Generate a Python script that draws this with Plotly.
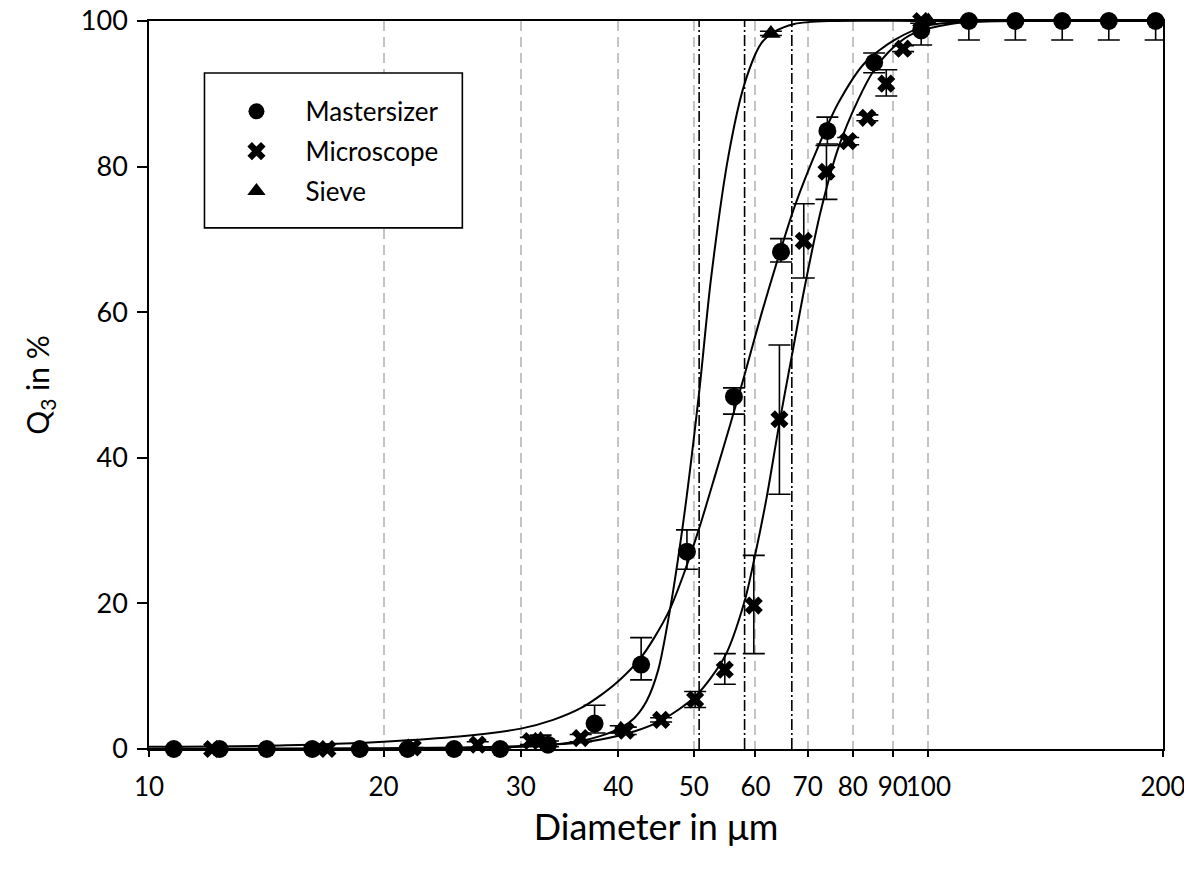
import math
import plotly.graph_objects as go

# ---------------- data ----------------
# Mastersizer measurements
ms_d = [10.76, 12.32, 14.16, 16.20, 18.64, 21.47, 24.63, 28.22, 32.5, 37.3, 42.8, 49.0,
        56.3, 64.7, 74.2, 85.2, 97.9, 112.7, 129.3, 148.5, 170.4, 195.7]
ms_q = [0, 0, 0, 0, 0, 0, 0, 0, 0.6, 3.5, 11.6, 27.1,
        48.4, 68.3, 84.9, 94.3, 98.7, 100, 100, 100, 100, 100]
ms_err_plus = [0, 0, 0, 0, 0, 0, 0, 0, 0.5, 2.5, 3.7, 3.0,
               1.2, 1.8, 1.9, 1.3, 1.3, 0, 0, 0, 0, 0]
ms_err_minus = [0, 0, 0, 0, 0, 0, 0, 0, 0.3, 1.3, 2.1, 2.4,
                2.4, 1.4, 1.8, 1.4, 2.0, 2.6, 2.6, 2.6, 2.6, 2.6]

# Microscope measurements
mi_d = [12.05, 16.94, 21.8, 26.41, 30.9, 35.8, 40.9, 45.4, 50.2, 54.8, 59.7,
        64.4, 69.2, 74.0, 78.9, 83.5, 88.3, 92.8, 97.9]
mi_q = [0, 0, 0.2, 0.6, 1.1, 1.5, 2.5, 4.0, 6.8, 10.9, 19.7,
        45.3, 69.8, 79.3, 83.5, 86.7, 91.4, 96.2, 100]
mi_err_plus = [0, 0, 0, 0.4, 0.5, 0.5, 0.5, 0.3, 1.1, 2.2, 6.9,
               10.2, 5.1, 3.6, 0.5, 0.4, 1.9, 0.4, 0.3]
mi_err_minus = [0, 0, 0, 0.4, 0.5, 0.5, 0.5, 0.3, 1.1, 2.0, 6.6,
                10.3, 5.1, 3.8, 0.5, 0.4, 1.7, 0.4, 0.3]

# Sieve measurements
sv_d = [31.8, 40.3, 62.8, 100]
sv_q = [1.3, 2.7, 98.3, 100]
sv_err = [0.6, 0.5, 0.3, 0]

# Fitted curves
ms_fit_d = [10, 15, 20, 25, 30, 33, 35.8, 38, 40, 42.8, 44.5, 46.5, 48.45, 50.8, 53.4,
            55.7, 58.1, 61.0, 63.8, 67.35, 72.2, 76.6, 82.8, 90.5, 100, 115, 140, 200]
ms_fit_q = [0.3, 0.5, 1.0, 1.7, 2.8, 4.0, 5.6, 7.4, 9.3, 12.6, 15.3, 19.0, 23.8, 30.3, 38.0,
            44.6, 51.4, 59.6, 66.6, 74.5, 82.7, 88.7, 94.2, 97.4, 99.4, 99.9, 100, 100]

sv_fit_d = [10, 20, 25, 30, 33, 35.8, 38, 40.3, 41.9, 43.5, 45, 46.5, 48.45, 50.8, 52.6,
            55.4, 58.1, 61.0, 63.4, 67.3, 75, 100, 200]
sv_fit_q = [0, 0.05, 0.1, 0.3, 0.6, 1.1, 1.8, 2.9, 4.2, 6.6, 10.8, 18.5, 31, 49, 64.5,
            81.5, 91.4, 96.9, 98.5, 99.6, 100, 100, 100]

mi_fit_d = [10, 20, 25, 30, 35.8, 38, 41.9, 45.4, 50.2, 54.8, 58.1, 59.9, 62.0, 64.4, 66.8,
            69.4, 72.8, 76.6, 81.2, 85.1, 90, 95.7, 106.8, 120, 200]
mi_fit_q = [0, 0.1, 0.2, 0.4, 0.9, 1.3, 2.4, 3.9, 7.2, 12.7, 20.3, 26.5, 34.5, 44.8, 54,
            63.5, 74.0, 82.5, 89.1, 93.2, 96.3, 98.3, 99.6, 100, 100]

# Median diameters (dash-dot markers)
x50_values = [50.8, 58.1, 66.8]

x_tickvals = [10, 20, 30, 40, 50, 60, 70, 80, 90, 100, 200]
x_ticktext = ["10", "20", "30", "40", "50", "60", "70", "80", "90", "100", "200"]
y_tickvals = [0, 20, 40, 60, 80, 100]

FONT = "Lato"

fig = go.Figure()

# x50 dash-dot verticals
for v in x50_values:
    fig.add_trace(go.Scatter(x=[v, v], y=[0, 100], mode="lines",
                             line=dict(color="black", width=1.6, dash="11px,3px,2px,3px"),
                             showlegend=False, hoverinfo="skip"))

# fitted curves
for fd, fq in [(ms_fit_d, ms_fit_q), (sv_fit_d, sv_fit_q), (mi_fit_d, mi_fit_q)]:
    fig.add_trace(go.Scatter(x=fd, y=fq, mode="lines",
                             line=dict(color="black", width=2, shape="spline", smoothing=0.8),
                             showlegend=False, hoverinfo="skip"))

err_style = dict(color="black", thickness=1.6, width=11)

fig.add_trace(go.Scatter(
    x=ms_d, y=ms_q, mode="markers", name="Mastersizer", legendgroup="a",
    marker=dict(symbol="circle", size=18, color="black"),
    error_y=dict(type="data", array=ms_err_plus, arrayminus=ms_err_minus, symmetric=False, **err_style),
    cliponaxis=False))
fig.add_trace(go.Scatter(
    x=mi_d, y=mi_q, mode="markers", name="Microscope", legendgroup="b",
    marker=dict(symbol="x", size=16, color="black"),
    error_y=dict(type="data", array=mi_err_plus, arrayminus=mi_err_minus, symmetric=False, **err_style),
    cliponaxis=False))
fig.add_trace(go.Scatter(
    x=sv_d, y=sv_q, mode="markers", name="Sieve", legendgroup="c",
    marker=dict(symbol="triangle-up", size=17, color="black"),
    error_y=dict(type="data", array=sv_err, **err_style),
    cliponaxis=False))

# page has an 8px body margin: figure is placed at (8, 8); keep it inside the window
OFF = 8
W, H = 1192 - OFF, 875 - 2 * OFF
# target plot area in page pixels: x 148.5..1163, y 21..749.5
ml, mt = 148.5 - OFF, 21 - OFF
mr = (W + OFF) - 1163
mb = (H + OFF) - 749.5
pw, ph = W - ml - mr, H - mt - mb

def px_x(p):  # page pixel -> paper x
    return (p - OFF - ml) / pw

def px_y(p):  # page pixel -> paper y
    return (H - mb - (p - OFF)) / ph

fig.add_shape(type="rect", xref="paper", yref="paper",
              x0=px_x(204), x1=px_x(462), y0=px_y(228), y1=px_y(73),
              line=dict(color="black", width=1.6), fillcolor="white", layer="above")

fig.update_layout(
    width=W, height=H,
    margin=dict(l=ml, r=mr, t=mt, b=mb, autoexpand=False),
    paper_bgcolor="white", plot_bgcolor="white",
    font=dict(family=FONT, color="black", size=27),
    showlegend=True,
    legend=dict(x=px_x(207), y=px_y(88), xanchor="left", yanchor="top",
                bgcolor="rgba(0,0,0,0)", borderwidth=0, itemwidth=88,
                tracegroupgap=3, font=dict(family=FONT, size=26, color="black")),
    xaxis=dict(type="log", range=[1, math.log10(200)], automargin=False,
               tickvals=x_tickvals, ticktext=x_ticktext, tickangle=0,
               ticks="outside", ticklen=6, tickwidth=1.5, tickcolor="black",
               ticklabelstandoff=8, ticklabeloverflow="allow",
               showline=True, linecolor="black", linewidth=1.6, mirror=True,
               showgrid=True, gridcolor="#c4c4c4", gridwidth=1.8, griddash="10px,6px",
               zeroline=False,
               tickfont=dict(family=FONT, size=26, color="black"),
               title=dict(text="Diameter in μm", font=dict(family=FONT, size=36, color="black"), standoff=14)),
    yaxis=dict(range=[0, 100], tickvals=y_tickvals, automargin=False,
               ticks="outside", ticklen=10, tickwidth=1.5, tickcolor="black",
               ticklabelstandoff=4, ticklabeloverflow="allow",
               showline=True, linecolor="black", linewidth=1.6, mirror=True,
               showgrid=False, zeroline=False,
               tickfont=dict(family=FONT, size=27, color="black"),
               title=dict(text="Q<sub>3</sub> in %", font=dict(family=FONT, size=30, color="black"), standoff=22)),
)

fig.write_html("out.html")
